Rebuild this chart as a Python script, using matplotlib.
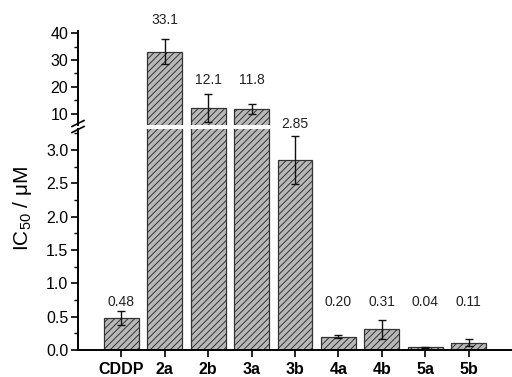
import matplotlib
matplotlib.use("Agg")
import matplotlib.pyplot as plt
from matplotlib.ticker import MultipleLocator, FormatStrFormatter

plt.rcParams["font.family"] = ["Liberation Sans", "DejaVu Sans"]
plt.rcParams["mathtext.default"] = "regular"
plt.rcParams["hatch.linewidth"] = 0.7
plt.rcParams["hatch.color"] = "#3a3a3a"

# data
compounds = ["CDDP", "2a", "2b", "3a", "3b", "4a", "4b", "5a", "5b"]
ic50 = [0.48, 33.1, 12.1, 11.8, 2.85, 0.20, 0.31, 0.04, 0.11]
ic50_err = [0.11, 4.5, 5.2, 2.0, 0.36, 0.02, 0.14, 0.01, 0.05]
value_text = ["0.48", "33.1", "12.1", "11.8", "2.85", "0.20", "0.31", "0.04", "0.11"]

# label heights (data units of the axis the bar top lives in)
label_y = [0.72, 44.8, 22.6, 22.6, 3.39, 0.72, 0.72, 0.72, 0.72]

W, H = 512, 377
fig = plt.figure(figsize=(W / 100, H / 100), dpi=100)
ax_lo = fig.add_axes([78 / W, 1 - 350 / H, 1 - 78 / W, 221 / H])
ax_hi = fig.add_axes([78 / W, 1 - 125 / H, 1 - 78 / W, 94 / H])
ax_hi.patch.set_visible(False)

x = list(range(1, len(compounds) + 1))
bar_kw = dict(width=0.8, color="#b8b8b8", edgecolor="#333333", linewidth=0.9, hatch="/////")
err_kw = dict(fmt="none", ecolor="#111111", elinewidth=1.0, capsize=3, capthick=1.0)

for ax in (ax_lo, ax_hi):
    ax.bar(x, ic50, zorder=2, **bar_kw)
    ax.errorbar(x, ic50, yerr=ic50_err, zorder=3, **err_kw)
    ax.set_xlim(0, 10)
    for side in ("top", "right"):
        ax.spines[side].set_visible(False)
    ax.spines["left"].set_linewidth(1.4)
    ax.tick_params(axis="y", which="major", direction="out", length=5, width=1.2, labelsize=11.5, pad=2)
    ax.tick_params(axis="y", which="minor", direction="out", length=3, width=1.0)

ax_lo.set_ylim(0, 3.315)
ax_lo.yaxis.set_major_locator(MultipleLocator(0.5))
ax_lo.yaxis.set_minor_locator(MultipleLocator(0.25))
ax_lo.yaxis.set_major_formatter(FormatStrFormatter("%.1f"))
ax_lo.spines["bottom"].set_linewidth(1.4)
ax_lo.set_xticks(x)
ax_lo.set_xticklabels(compounds, fontweight="bold", fontsize=11.5)
ax_lo.tick_params(axis="x", direction="out", length=5, width=1.2, pad=4)

ax_hi.set_ylim(5.9, 40.75)
ax_hi.yaxis.set_major_locator(MultipleLocator(10))
ax_hi.yaxis.set_minor_locator(MultipleLocator(5))
ax_hi.spines["bottom"].set_visible(False)
ax_hi.set_xticks([])

# value labels above bars
for xi, v, txt, ly in zip(x, ic50, value_text, label_y):
    ax = ax_hi if v > 5 else ax_lo
    ax.text(xi, ly, txt, ha="center", va="center", fontsize=10, color="#222222",
            clip_on=False, zorder=5)

# break marks on the left spine
for yb in (123.5, 129.5):
    yf = 1 - yb / H
    fig.add_artist(plt.Line2D([72 / W, 84 / W], [yf - 3 / H, yf + 3 / H], color="black", lw=1.2))

fig.text(22 / W, 1 - 208 / H, r"IC$_{50}$ / μM", rotation=90,
         ha="center", va="center", fontsize=15)

fig.savefig("out.png", dpi=100)
